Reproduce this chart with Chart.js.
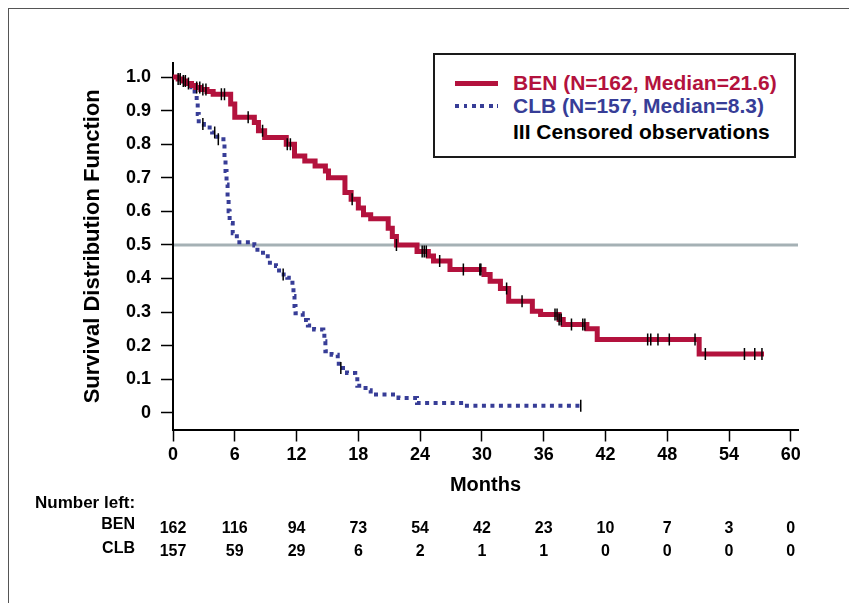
<!DOCTYPE html>
<html>
<head>
<meta charset="utf-8">
<script src="https://cdn.jsdelivr.net/npm/chart.js@4.4.1/dist/chart.umd.min.js"></script>
<style>
  html, body { margin: 0; padding: 0; background: #fff; }
  body { width: 849px; height: 603px; position: relative; overflow: hidden;
         font-family: 'Liberation Sans', Arial, sans-serif; font-weight: bold; }
  #frame { position: absolute; left: 8px; top: 8px; width: 900px; height: 700px;
           border-left: 1px solid #555; border-top: 1px solid #555; }
  #chart { position: absolute; left: 0; top: 0; }
  #legend { position: absolute; left: 433px; top: 53px; width: 363px; height: 105px;
            box-sizing: border-box; border: 2px solid #1a1a1a; background: #fff; }
  #legend .txt { position: absolute; left: 78px; font-size: 21px; line-height: 24px;
                 white-space: nowrap; transform: translateY(-50%); }
  #legend .sw { position: absolute; left: 20px; width: 43px; }
  .cell { position: absolute; font-size: 16px; line-height: 18px; white-space: nowrap; color: #000; }
</style>
</head>
<body>
<div id="frame"></div>
<canvas id="chart" width="849" height="603"></canvas>
<div id="legend"></div>
<div id="table"></div>
<script>
// Kaplan-Meier steps: time (months) at which survival drops, and the new survival value
const benTimes = [0, 0.5, 0.9, 1.3, 1.8, 2.2, 2.7, 3.3, 3.9, 5.6, 6.0, 7.9, 8.3, 8.9, 11.0, 11.8, 12.8, 13.8, 14.8, 15.1,
  16.7, 17.3, 18.0, 18.5, 19.2, 20.9, 21.3, 21.7, 23.7, 24.8, 25.3, 26.9, 30.2, 30.8, 31.8, 32.6, 34.9, 35.7,
  37.5, 37.9, 40.2, 41.2, 51.1, 57.4];
const benSurv = [1.0, 0.994, 0.988, 0.981, 0.975, 0.969, 0.963, 0.957, 0.949, 0.92, 0.88, 0.865, 0.84, 0.82, 0.80, 0.765, 0.75, 0.735, 0.72, 0.70,
  0.656, 0.636, 0.61, 0.59, 0.578, 0.55, 0.525, 0.50, 0.48, 0.467, 0.452, 0.427, 0.412, 0.392, 0.37, 0.332, 0.302, 0.293,
  0.278, 0.263, 0.25, 0.218, 0.175, 0.175];

const clbTimes = [0, 0.5, 0.9, 1.3, 1.8, 2.1, 2.3, 2.4, 2.5, 3.0, 3.8, 4.3, 4.9, 5.0, 5.1, 5.2, 5.3, 5.4, 5.5, 5.8, 6.2,
  7.9, 8.2, 9.2, 10.0, 10.3, 11.1, 11.6, 11.7, 11.8, 11.9, 12.6, 13.1, 13.7, 14.6, 14.7, 14.8, 15.4, 16.0, 16.1,
  16.9, 17.7, 17.9, 18.7, 19.2, 21.9, 23.7, 28.2, 39.6];
const clbSurv = [1.0, 0.994, 0.987, 0.98, 0.97, 0.95, 0.93, 0.89, 0.86, 0.85, 0.835, 0.815, 0.80, 0.76, 0.72, 0.68, 0.64, 0.60, 0.565, 0.535, 0.508,
  0.498, 0.477, 0.447, 0.437, 0.412, 0.402, 0.377, 0.348, 0.318, 0.296, 0.276, 0.26, 0.248, 0.243, 0.213, 0.183, 0.173, 0.16, 0.133,
  0.118, 0.108, 0.08, 0.067, 0.054, 0.044, 0.029, 0.021, 0.021];

// censored observation times
const benCensored = [0.5, 0.7, 1.0, 1.2, 1.5, 2.3, 2.6, 2.9, 3.2, 4.7, 5.0, 7.3, 8.7, 11.1, 11.4, 17.4, 21.7, 24.2, 24.4, 24.6,
  25.9, 28.2, 29.8, 29.9, 32.4, 33.9, 37.1, 37.3, 37.5, 37.7, 38.7, 39.8, 40.0, 46.1, 46.4, 47.1, 48.2, 50.7, 51.7, 55.5, 56.5, 57.2];
const clbCensored = [2.9, 4.05, 4.4, 10.7, 16.3, 39.6];

const seriesNames = ['BEN', 'CLB'];
const seriesN = [162, 157];
const seriesMedian = ['21.6', '8.3'];

const xTicks = [0, 6, 12, 18, 24, 30, 36, 42, 48, 54, 60];
const yTicks = [0, 0.1, 0.2, 0.3, 0.4, 0.5, 0.6, 0.7, 0.8, 0.9, 1.0];
const yTickLabels = ['0', '0.1', '0.2', '0.3', '0.4', '0.5', '0.6', '0.7', '0.8', '0.9', '1.0'];
const benAtRisk = [162, 116, 94, 73, 54, 42, 23, 10, 7, 3, 0];
const clbAtRisk = [157, 59, 29, 6, 2, 1, 1, 0, 0, 0, 0];
const medianLevel = 0.5;

const RED = '#B3123D';
const BLUE = '#373D97';
const FONT = "'Liberation Sans', Arial, sans-serif";

function survivalAt(times, surv, t) {
  let s = surv[0];
  for (let i = 0; i < times.length; i++) {
    if (times[i] <= t) s = surv[i];
  }
  return s;
}

const medianLinePlugin = {
  id: 'medianLine',
  beforeDatasetsDraw(chart) {
    const { ctx, chartArea, scales } = chart;
    const y = scales.y.getPixelForValue(medianLevel);
    ctx.save();
    ctx.strokeStyle = '#A5B1B5';
    ctx.lineWidth = 3;
    ctx.beginPath();
    ctx.moveTo(chartArea.left + 1, y);
    ctx.lineTo(chartArea.right, y);
    ctx.stroke();
    ctx.restore();
  }
};

const censorStyle = {
  showLine: false,
  pointStyle: 'line',
  rotation: 90,
  pointRadius: 6,
  borderColor: '#000',
  backgroundColor: '#000',
  borderWidth: 1.5,
  order: 0
};

const chart = new Chart(document.getElementById('chart').getContext('2d'), {
  type: 'line',
  data: {
    datasets: [
      Object.assign({
        label: 'BEN censored',
        data: benCensored.map(t => ({ x: t, y: survivalAt(benTimes, benSurv, t) }))
      }, censorStyle),
      Object.assign({
        label: 'CLB censored',
        data: clbCensored.map(t => ({ x: t, y: survivalAt(clbTimes, clbSurv, t) }))
      }, censorStyle),
      {
        label: 'BEN',
        data: benTimes.map((t, i) => ({ x: t, y: benSurv[i] })),
        borderColor: RED,
        borderWidth: 5,
        stepped: true,
        pointRadius: 0,
        borderJoinStyle: 'miter',
        fill: false,
        order: 1
      },
      {
        label: 'CLB',
        data: clbTimes.map((t, i) => ({ x: t, y: clbSurv[i] })),
        borderColor: BLUE,
        borderWidth: 4,
        borderDash: [4, 4.5],
        stepped: true,
        pointRadius: 0,
        fill: false,
        order: 2
      }
    ]
  },
  options: {
    responsive: false,
    animation: false,
    layout: { padding: { left: 80, top: 63, right: 51, bottom: 106 } },
    plugins: { legend: { display: false }, tooltip: { enabled: false } },
    scales: {
      x: {
        type: 'linear',
        min: 0,
        max: 60.7,
        afterBuildTicks: s => { s.ticks = xTicks.map(v => ({ value: v })); },
        afterFit: s => { s.height = 67.5; },
        ticks: { autoSkip: false, maxRotation: 0, padding: 3, color: '#000',
                 font: { family: FONT, size: 18, weight: 'bold' } },
        grid: { drawOnChartArea: false, tickLength: 12, tickColor: '#000', tickWidth: 1.5 },
        border: { color: '#000', width: 2 },
        title: { display: true, text: 'Months', color: '#000', padding: 0,
                 font: { family: FONT, size: 20, weight: 'bold' } }
      },
      y: {
        min: -0.05,
        max: 1.042,
        afterBuildTicks: s => { s.ticks = yTicks.map(v => ({ value: v })); },
        afterFit: s => { s.width = 93; },
        ticks: { autoSkip: false, padding: 6, color: '#000',
                 callback: (v, i) => yTickLabels[i],
                 font: { family: FONT, size: 18, weight: 'bold' } },
        grid: { drawOnChartArea: false, tickLength: 16, tickColor: '#000', tickWidth: 1.5,
                tickBorderDash: [0, 4, 12, 50] },
        border: { color: '#000', width: 2 },
        title: { display: true, text: 'Survival Distribution Function', color: '#000', padding: 0,
                 font: { family: FONT, size: 22, weight: 'bold' } }
      }
    }
  },
  plugins: [medianLinePlugin]
});

// legend box
const legend = document.getElementById('legend');
const rowY = [28, 51, 77];
const colors = [RED, BLUE];
seriesNames.forEach((name, i) => {
  const sw = document.createElement('div');
  sw.className = 'sw';
  if (i === 0) {
    sw.style.cssText = `top:${rowY[i] - 2.5}px;height:5px;background:${RED};`;
  } else {
    sw.style.cssText = `top:${rowY[i] - 2}px;height:4px;background:repeating-linear-gradient(to right, ${BLUE} 0 4px, transparent 4px 8.5px);`;
  }
  legend.appendChild(sw);
  const t = document.createElement('div');
  t.className = 'txt';
  t.style.top = rowY[i] + 'px';
  t.style.color = colors[i];
  t.textContent = `${name} (N=${seriesN[i]}, Median=${seriesMedian[i]})`;
  legend.appendChild(t);
});
const cens = document.createElement('div');
cens.className = 'txt';
cens.style.top = rowY[2] + 'px';
cens.style.color = '#000';
cens.textContent = 'III Censored observations';
legend.appendChild(cens);

// number-at-risk table
const table = document.getElementById('table');
function addCell(text, x, y, align, size) {
  const d = document.createElement('div');
  d.className = 'cell';
  d.textContent = text;
  d.style.top = (y - 9) + 'px';
  if (size) d.style.fontSize = size + 'px';
  if (align === 'center') {
    d.style.left = x + 'px';
    d.style.transform = 'translateX(-50%)';
  } else if (align === 'right') {
    d.style.right = (849 - x) + 'px';
  } else {
    d.style.left = x + 'px';
  }
  table.appendChild(d);
}
addCell('Number left:', 35, 503, 'left', 17);
addCell(seriesNames[0], 135, 524, 'right');
addCell(seriesNames[1], 135, 548, 'right');
xTicks.forEach((t, i) => {
  const px = chart.scales.x.getPixelForValue(t);
  addCell(String(benAtRisk[i]), px, 528, 'center');
  addCell(String(clbAtRisk[i]), px, 551, 'center');
});
</script>
</body>
</html>
